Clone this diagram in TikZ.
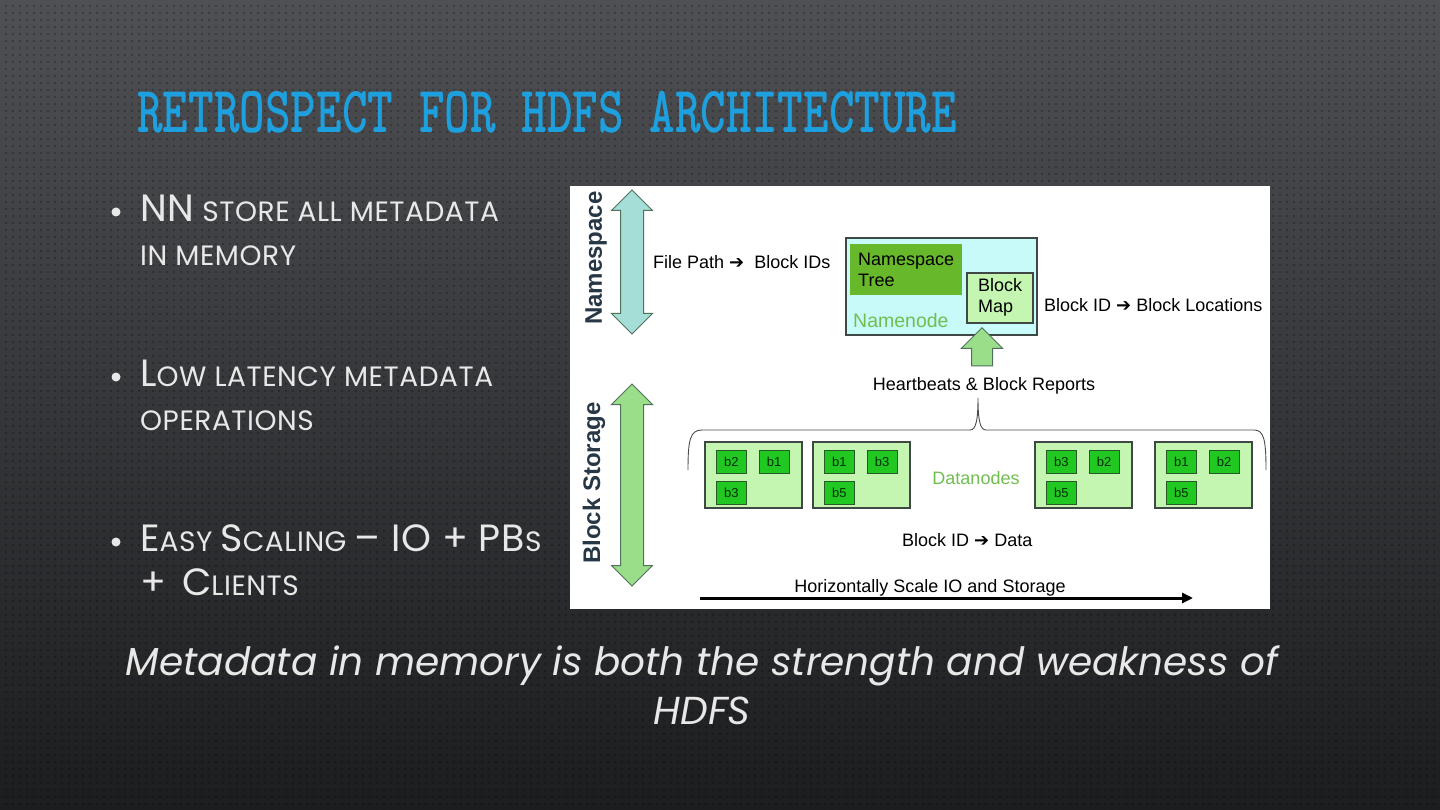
\documentclass[tikz,border=0pt]{standalone}
\usepackage{fontspec}
\setmainfont{Liberation Sans}
\newfontfamily\slidefont[LetterSpace=2.0]{Poppins}
\newfontfamily\quotefont{Poppins}
\newfontfamily\symfont{DejaVu Sans}
\usetikzlibrary{shapes.arrows, arrows.meta, positioning, calc, patterns.meta}
\definecolor{bgtop}{RGB}{78,80,84}
\definecolor{bgbot}{RGB}{28,29,31}
\definecolor{slidetext}{RGB}{232,232,232}
\definecolor{headblue}{RGB}{30,160,222}
\definecolor{nnfill}{RGB}{200,250,250}
\definecolor{boxedge}{RGB}{64,72,70}
\definecolor{treefill}{RGB}{104,184,44}
\definecolor{dnfill}{RGB}{196,246,178}
\definecolor{blkfill}{RGB}{34,200,34}
\definecolor{blkedge}{RGB}{40,90,40}
\definecolor{gtext}{RGB}{112,190,80}
\definecolor{arredge}{RGB}{80,112,92}
\definecolor{cyanmid}{RGB}{228,254,252}
\definecolor{cyanside}{RGB}{165,222,214}
\definecolor{greenmid}{RGB}{222,255,214}
\definecolor{greenside}{RGB}{155,222,138}
\definecolor{slate}{RGB}{40,55,70}
\newcommand{\rarr}{{\symfont\bfseries ➔}}
\newcommand{\capL}[1]{{\fontsize{38}{44}\selectfont #1}}

\begin{document}
\begin{tikzpicture}[x=1pt, y=-1pt,
    bullet/.style={anchor=base west, align=left, inner sep=0pt, text=slidetext, font=\slidefont\fontsize{28}{44}\selectfont},
    dot/.style={circle, fill=slidetext, inner sep=0pt, minimum size=9pt},
    lbl/.style={inner sep=1pt, font=\fontsize{18}{21}\selectfont},
    glbl/.style={lbl, text=gtext, font=\fontsize{18}{21}\selectfont},
    vlbl/.style={rotate=90, inner sep=0pt, text=slate, font=\bfseries\fontsize{24}{24}\selectfont},
    vscale/.style={double arrow, rotate=90, draw=arredge, line width=1pt, inner xsep=0pt, inner ysep=11pt, double arrow head extend=9pt, double arrow head indent=0pt},
    dn/.style={draw=boxedge, line width=2pt, fill=dnfill, minimum width=97pt, minimum height=66pt},
    blk/.style={draw=blkedge, line width=0.8pt, fill=blkfill, minimum width=30pt, minimum height=23pt, inner sep=0pt, font=\fontsize{13}{14}\selectfont, text=black!70!green!60!black}]
\useasboundingbox (0,0) rectangle (1440,810);
\fill[top color=bgtop, bottom color=bgbot] (0,0) rectangle (1440,810);
\fill[pattern={Dots[radius=1.3pt, distance=6.5pt]}, pattern color=black, opacity=.3] (0,0) rectangle (1440,810);

\node[anchor=base west, inner sep=0pt, text=headblue, font=\ttfamily\bfseries\fontsize{66}{66}\selectfont] (title) at (137,133) {\resizebox{820pt}{\height}{RETROSPECT FOR HDFS ARCHITECTURE}};

\node[dot] (d1) at (116,212) {};
\node[bullet] (t1) at (140,266) {\capL{NN} STORE ALL METADATA\\IN MEMORY};
\node[dot] (d2) at (116,377) {};
\node[bullet] (t2) at (140,430) {\capL{L}OW LATENCY METADATA\\OPERATIONS};
\node[dot] (d3) at (116,542) {};
\node[bullet] (t3) at (140,595) {\capL{E}ASY \capL{S}CALING \capL{– IO + PB}S\\\capL{+}\hspace{16pt}\capL{C}LIENTS};

\node[fill=white, minimum width=700pt, minimum height=423pt, inner sep=0pt] (panel) at (920,397.5) {};

\node[vscale, minimum height=144pt, left color=cyanside, middle color=cyanmid, right color=cyanside] (nsarr) at (632,262) {};
\node[vlbl] (nslbl) at (596,258) {Namespace};
\node[vscale, minimum height=202pt, left color=greenside, middle color=greenmid, right color=greenside] (bsarr) at (632,485) {};
\node[vlbl] (bslbl) at (594,483) {Block Storage};

\node[lbl, anchor=west] (fpath) at (652,262) {File Path \rarr\ \ Block IDs};
\node[draw=boxedge, line width=2pt, fill=nnfill, minimum width=191pt, minimum height=97pt] (nn) at (941.5,286.5) {};
\node[lbl, fill=treefill, minimum width=112pt, minimum height=51pt, align=left, below right=7pt and 5pt of nn.north west] (tree) {Namespace\\Tree};
\node[lbl, draw=boxedge, line width=1.6pt, fill=dnfill, minimum width=66pt, minimum height=50pt, align=left, below left=35pt and 4pt of nn.north east] (bmap) {Block\\Map};
\node[glbl, anchor=west, font=\fontsize{19.5}{21}\selectfont] (nnlbl) at (852,321) {Namenode};
\node[lbl, anchor=west] (bloc) at (1043,305) {Block ID \rarr\ Block Locations};

\node[lbl] (hb) at (984,386) {Heartbeats \& Block Reports};
\node[single arrow, rotate=90, draw=arredge, line width=1pt, inner xsep=0pt, inner ysep=10pt, minimum height=38pt, single arrow head extend=10pt, single arrow head indent=0pt, left color=greenside, middle color=greenmid, right color=greenside] (hbarr) at (982,352) {};

\draw[line width=0.9pt, black!70] (688,470) .. controls (688,440) and (690,430) .. (702,430) -- (970,430) .. controls (976,430) and (978,420) .. (978,398) .. controls (978,420) and (980,430) .. (986,430) -- (1254,430) .. controls (1264,430) and (1266,440) .. (1266,470);

\node[dn] (dn1) at (753.5,475) {};
\node[dn] (dn2) at (861.5,475) {};
\node[dn] (dn3) at (1083.5,475) {};
\node[dn] (dn4) at (1203.5,475) {};
\node[blk, below right=9pt and 12pt of dn1.north west] (a1) {b2};
\node[blk, right=12pt of a1] (a2) {b1};
\node[blk, below=7pt of a1] (a3) {b3};
\node[blk, below right=9pt and 12pt of dn2.north west] (c1) {b1};
\node[blk, right=12pt of c1] (c2) {b3};
\node[blk, below=7pt of c1] (c3) {b5};
\node[blk, below right=9pt and 12pt of dn3.north west] (e1) {b3};
\node[blk, right=12pt of e1] (e2) {b2};
\node[blk, below=7pt of e1] (e3) {b5};
\node[blk, below right=9pt and 12pt of dn4.north west] (f1) {b1};
\node[blk, right=12pt of f1] (f2) {b2};
\node[blk, below=7pt of f1] (f3) {b5};
\node[glbl] (dnlbl) at (976,478) {Datanodes};

\node[lbl, anchor=west] (bdata) at (901,540) {Block ID \rarr\ Data};
\coordinate (hs) at (700,598);
\coordinate (he) at (1193,598);
\draw[line width=3pt, -{Triangle[length=11pt, width=10pt]}] (hs) -- (he);
\node[lbl] (hscale) at (930,588) {Horizontally Scale IO and Storage};

\node[align=center, inner sep=0pt, anchor=base, text=slidetext, font=\quotefont\itshape\fontsize{39}{49}\selectfont] (quote) at (702,724) {Metadata in memory is both the strength and weakness of\\HDFS};
\end{tikzpicture}
\end{document}
